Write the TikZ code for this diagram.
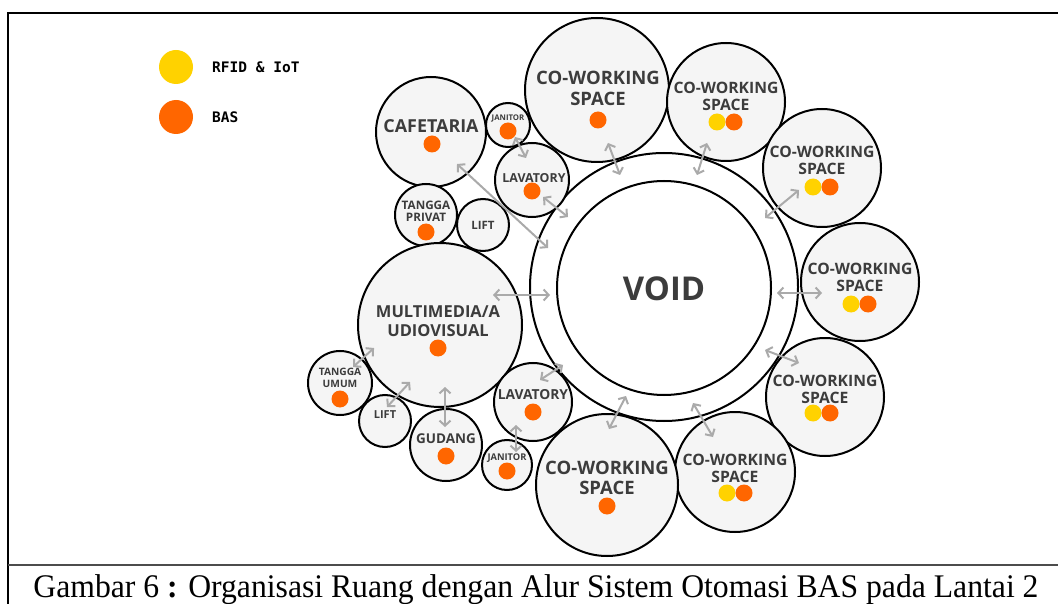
\documentclass[tikz,border=0pt]{standalone}
\usepackage{fontspec}
\setmainfont{Liberation Serif}
\setsansfont{Open Sans}
\newfontfamily\legendfont{DejaVu Sans Mono}
\usetikzlibrary{arrows.meta}
\definecolor{basorange}{HTML}{FF6600}
\definecolor{rfidyellow}{HTML}{FFD200}
\definecolor{roomfill}{HTML}{F5F5F5}
\definecolor{roomtext}{HTML}{3C3C3C}
\definecolor{flowgray}{HTML}{AAAAAA}
\tikzset{
    room/.style={circle, draw=black, line width=2pt, fill=roomfill, inner sep=0pt},
    roomlabel/.style 2 args={align=center, text=roomtext, inner sep=0pt,
        font=\sffamily\bfseries\fontsize{#1}{#2}\selectfont},
    basdot/.style={circle, fill=basorange, inner sep=0pt, minimum size=17pt},
    rfiddot/.style={circle, fill=rfidyellow, inner sep=0pt, minimum size=17pt},
    flow/.style={draw=flowgray, line width=2pt,
        {Straight Barb[length=5pt,width=11pt]}-{Straight Barb[length=5pt,width=11pt]}}
}

\begin{document}
\begin{tikzpicture}[x=1pt, y=-1pt]
  \useasboundingbox (0,0) rectangle (1058,604);
  \coordinate (bl) at (8,604);
  \coordinate (tl) at (8,13);
  \coordinate (tr) at (1058,13);
  \coordinate (ml) at (8,565);
  \coordinate (mr) at (1058,565);
  \draw[line width=1.5pt] (bl) -- (tl) -- (tr);
  \draw[line width=1.5pt, black!70] (ml) -- (mr);

  \node (leg1) [rfiddot, minimum size=34pt] at (176,67) {};
  \node (leg2) [basdot, minimum size=34pt] at (176,117) {};
  \node (leg1t) [anchor=west, inner sep=0pt, font=\legendfont\bfseries\fontsize{14.5}{14.5}\selectfont] at (212,67) {RFID \& IoT};
  \node (leg2t) [anchor=west, inner sep=0pt, font=\legendfont\bfseries\fontsize{14.5}{14.5}\selectfont] at (212,117) {BAS};

  \node (ring) [circle, draw=black, line width=2pt, fill=white, minimum size=268pt] at (664,287) {};
  \node (void) [circle, draw=black, line width=2pt, fill=white, minimum size=214pt] at (664,288) {};
  \node (voidt) [roomlabel={32.8}{33}] at (664,289) {VOID};

  \node (caf) [room, minimum size=110pt] at (431,132) {};
  \node (jan1) [room, minimum size=44pt] at (508,125) {};
  \node (lav1) [room, minimum size=74pt] at (532,180) {};
  \node (tgp) [room, minimum size=62pt] at (426,215) {};
  \node (lift1) [room, minimum size=52pt] at (483,225) {};
  \node (mm) [room, minimum size=164pt] at (440,325) {};
  \node (tgu) [room, minimum size=64pt] at (340,383) {};
  \node (lift2) [room, minimum size=52pt] at (385,421) {};
  \node (gud) [room, minimum size=72pt] at (446,445) {};
  \node (lav2) [room, minimum size=78pt] at (533,402) {};
  \node (jan2) [room, minimum size=50pt] at (507,465) {};

  \node (cw1) [room, minimum size=144pt] at (597,90) {};
  \node (cw2) [room, minimum size=118pt] at (726,102) {};
  \node (cw3) [room, minimum size=118pt] at (822,168) {};
  \node (cw4) [room, minimum size=118pt] at (860,282) {};
  \node (cw5) [room, minimum size=118pt] at (825,397) {};
  \node (cw6) [room, minimum size=120pt] at (735,472) {};
  \node (cw7) [room, minimum size=142pt] at (607,485) {};

  \node (caft) [roomlabel={17.9}{18}] at (431,126) {CAFETARIA};
  \node (cafb) [basdot] at (432,144) {};
  \node (jan1t) [roomlabel={7.8}{8}] at (508,118) {JANITOR};
  \node (jan1b) [basdot] at (508,131) {};
  \node (lav1t) [roomlabel={12.4}{13}] at (534,178) {LAVATORY};
  \node (lav1b) [basdot] at (532,191) {};
  \node (tgpt) [roomlabel={11.7}{12}] at (426,211) {TANGGA\\PRIVAT};
  \node (tgpb) [basdot] at (426,232) {};
  \node (lift1t) [roomlabel={11.5}{12}] at (483,225) {LIFT};
  \node (mmt) [roomlabel={16.5}{19}] at (438,321) {MULTIMEDIA/A\\UDIOVISUAL};
  \node (mmb) [basdot] at (438,348) {};
  \node (tgut) [roomlabel={10.2}{12}] at (340,378) {TANGGA\\UMUM};
  \node (tgub) [basdot] at (340,399) {};
  \node (lift2t) [roomlabel={11}{11}] at (385,415) {LIFT};
  \node (gudt) [roomlabel={13.5}{14}] at (446,439) {GUDANG};
  \node (gudb) [basdot] at (446,456) {};
  \node (lav2t) [roomlabel={13.8}{14}] at (533,395) {LAVATORY};
  \node (lav2b) [basdot] at (533,412) {};
  \node (jan2t) [roomlabel={9.3}{10}] at (507,458) {JANITOR};
  \node (jan2b) [basdot] at (507,471) {};

  \node (cw1t) [roomlabel={18.5}{21}] at (598,88) {CO-WORKING\\SPACE};
  \node (cw1b) [basdot] at (598,120) {};
  \node (cw2t) [roomlabel={15.7}{17}] at (726,96) {CO-WORKING\\SPACE};
  \node (cw2y) [rfiddot] at (717,122) {};
  \node (cw2b) [basdot] at (734,122) {};
  \node (cw3t) [roomlabel={15.7}{17}] at (822,160) {CO-WORKING\\SPACE};
  \node (cw3y) [rfiddot] at (813,187) {};
  \node (cw3b) [basdot] at (830,187) {};
  \node (cw4t) [roomlabel={15.7}{17}] at (860,277) {CO-WORKING\\SPACE};
  \node (cw4y) [rfiddot] at (851,304) {};
  \node (cw4b) [basdot] at (868,304) {};
  \node (cw5t) [roomlabel={15.7}{17}] at (825,389) {CO-WORKING\\SPACE};
  \node (cw5y) [rfiddot] at (813,413) {};
  \node (cw5b) [basdot] at (830,413) {};
  \node (cw6t) [roomlabel={15.7}{17}] at (735,468) {CO-WORKING\\SPACE};
  \node (cw6y) [rfiddot] at (727,493) {};
  \node (cw6b) [basdot] at (744,493) {};
  \node (cw7t) [roomlabel={18.5}{20}] at (607,478) {CO-WORKING\\SPACE};
  \node (cw7b) [basdot] at (607,506) {};

  \coordinate (f1a) at (608,143);
  \coordinate (f1b) at (620,175);
  \coordinate (f2a) at (707,143);
  \coordinate (f2b) at (697,175);
  \coordinate (f3a) at (799,190);
  \coordinate (f3b) at (765,218);
  \coordinate (f4a) at (822,293);
  \coordinate (f4b) at (777,293);
  \coordinate (f5a) at (799,363);
  \coordinate (f5b) at (765,350);
  \coordinate (f6a) at (713,437);
  \coordinate (f6b) at (693,403);
  \coordinate (f7a) at (609,429);
  \coordinate (f7b) at (626,396);
  \coordinate (f8a) at (540,380);
  \coordinate (f8b) at (563,365);
  \coordinate (f9a) at (516,425);
  \coordinate (f9b) at (516,452);
  \coordinate (f10a) at (445,387);
  \coordinate (f10b) at (445,427);
  \coordinate (f11a) at (410,382);
  \coordinate (f11b) at (387,407);
  \coordinate (f12a) at (374,348);
  \coordinate (f12b) at (353,367);
  \coordinate (f13a) at (493,295);
  \coordinate (f13b) at (550,295);
  \coordinate (f14a) at (457,164);
  \coordinate (f14b) at (548,248);
  \coordinate (f15a) at (543,197);
  \coordinate (f15b) at (568,217);
  \coordinate (f16a) at (515,137);
  \coordinate (f16b) at (526,158);

  \draw[flow] (f1a) -- (f1b);
  \draw[flow] (f2a) -- (f2b);
  \draw[flow] (f3a) -- (f3b);
  \draw[flow] (f4a) -- (f4b);
  \draw[flow] (f5a) -- (f5b);
  \draw[flow] (f6a) -- (f6b);
  \draw[flow] (f7a) -- (f7b);
  \draw[flow] (f8a) -- (f8b);
  \draw[flow] (f9a) -- (f9b);
  \draw[flow] (f10a) -- (f10b);
  \draw[flow] (f11a) -- (f11b);
  \draw[flow] (f12a) -- (f12b);
  \draw[flow] (f13a) -- (f13b);
  \draw[flow] (f14a) -- (f14b);
  \draw[flow] (f15a) -- (f15b);
  \draw[flow] (f16a) -- (f16b);

  \node (cap) [anchor=base, inner sep=0pt, xscale=0.96, font=\fontsize{33}{33}\selectfont] at (536,597)
    {Gambar 6 \textbf{:} Organisasi Ruang dengan Alur Sistem Otomasi BAS pada Lantai 2};
\end{tikzpicture}
\end{document}
